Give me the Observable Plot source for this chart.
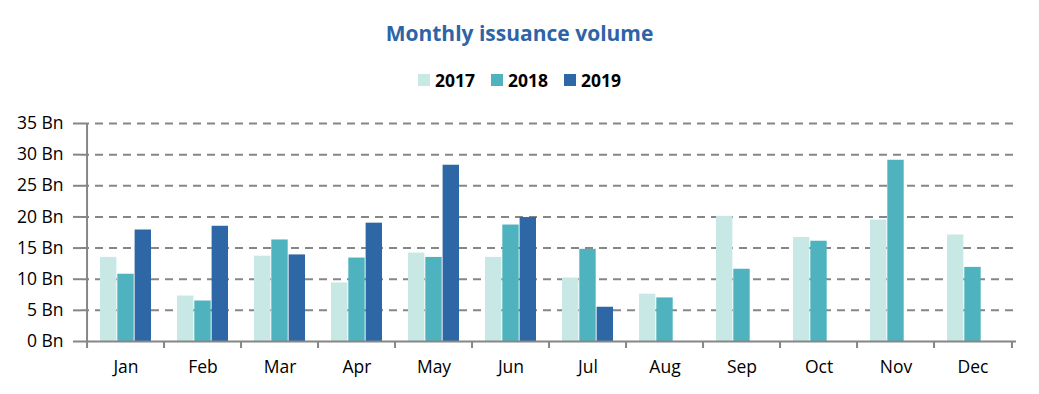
<!DOCTYPE html>
<html>
<head>
<meta charset="utf-8">
<script src="https://cdn.jsdelivr.net/npm/d3@7"></script>
<script src="https://cdn.jsdelivr.net/npm/@observablehq/plot@0.6"></script>
<style>
  body { margin: 0; background: #fff; font-family: "Open Sans", sans-serif; }
  #title { height: 58px; box-sizing: border-box; padding-top: 18px; text-align: center; font-size: 21px; font-weight: bold; color: #2E64A6; line-height: 30px; font-family: "Open Sans", sans-serif; }
  #legend { height: 37px; display: flex; justify-content: center; align-items: center; gap: 16px; font-size: 17.5px; font-weight: bold; color: #000; padding-left: 0px; box-sizing: border-box; padding-top: 7px; }
  .item { display: flex; align-items: center; gap: 5px; }
  .sw { width: 12px; height: 12px; display: inline-block; }
  #chart svg text { font-size: 17.5px; font-family: "Open Sans", sans-serif; }
</style>
</head>
<body>
<div id="title">Monthly issuance volume</div>
<div id="legend"></div>
<div id="chart"></div>
<script>
const months = ["Jan","Feb","Mar","Apr","May","Jun","Jul","Aug","Sep","Oct","Nov","Dec"];
const years = ["2017","2018","2019"];
const colors = ["#C8E8E6","#4EB3BE","#2E67A5"];
const v2017 = [13.5, 7.3, 13.7, 9.4, 14.2, 13.5, 10.2, 7.6, 20.1, 16.7, 19.5, 17.1];
const v2018 = [10.8, 6.5, 16.3, 13.4, 13.5, 18.7, 14.8, 7.0, 11.6, 16.1, 29.1, 11.9];
const v2019 = [17.9, 18.5, 13.9, 19.0, 28.3, 19.9, 5.5, null, null, null, null, null];
const yTicks = [0, 5, 10, 15, 20, 25, 30, 35];

const series = [v2017, v2018, v2019];

const legend = document.getElementById("legend");
years.forEach((y, i) => {
  const it = document.createElement("span");
  it.className = "item";
  it.innerHTML = `<span class="sw" style="background:${colors[i]}"></span>${y}`;
  legend.appendChild(it);
});

const W = 1039, H = 299, mL = 81, mR = 23, mT = 28, mB = 53;
const bw = (W - mL - mR) / months.length;
const groupPad = 13;
const barW = (bw - 2 * groupPad) / 3;
const axisColor = "#868686";

const barMarks = series.map((vals, i) => {
  const data = months.map((m, j) => ({month: m, value: vals[j]})).filter(d => d.value != null);
  return Plot.barY(data, {
    x: "month", y: "value", fill: colors[i],
    insetLeft: groupPad + i * barW,
    insetRight: bw - groupPad - (i + 1) * barW
  });
});

const chart = Plot.plot({
  width: W, height: H,
  marginLeft: mL, marginRight: mR, marginTop: mT, marginBottom: mB,
  style: {fontFamily: "'Open Sans', sans-serif", background: "#fff", fontSize: "17px"},
  x: {domain: months, padding: 0, label: null},
  y: {domain: [0, 35], label: null},
  marks: [
    Plot.ruleY(yTicks.filter(d => d > 0), {y: d => d, stroke: axisColor, strokeWidth: 2, strokeDasharray: "8,6"}),
    ...barMarks,
    Plot.ruleY([0], {stroke: axisColor, strokeWidth: 2}),
    Plot.ruleX([months[0]], {x: d => d, dx: -bw / 2, y1: 0, y2: 35, stroke: axisColor, strokeWidth: 2}),
    Plot.tickX(months, {x: d => d, dx: -bw / 2, stroke: axisColor, strokeWidth: 2, insetTop: H - mT - mB, insetBottom: -7}),
    Plot.tickX([months[months.length - 1]], {x: d => d, dx: bw / 2, stroke: axisColor, strokeWidth: 2, insetTop: H - mT - mB, insetBottom: -7}),
    Plot.axisY({ticks: yTicks, tickFormat: d => `${d} Bn`, tickSize: 8, tickPadding: 10, stroke: axisColor, strokeWidth: 2, fill: "#000", fontSize: 17, label: null}),
    Plot.axisX({tickSize: 0, tickPadding: 19, fill: "#000", fontSize: 17, label: null})
  ]
});
document.getElementById("chart").appendChild(chart);
</script>
</body>
</html>
